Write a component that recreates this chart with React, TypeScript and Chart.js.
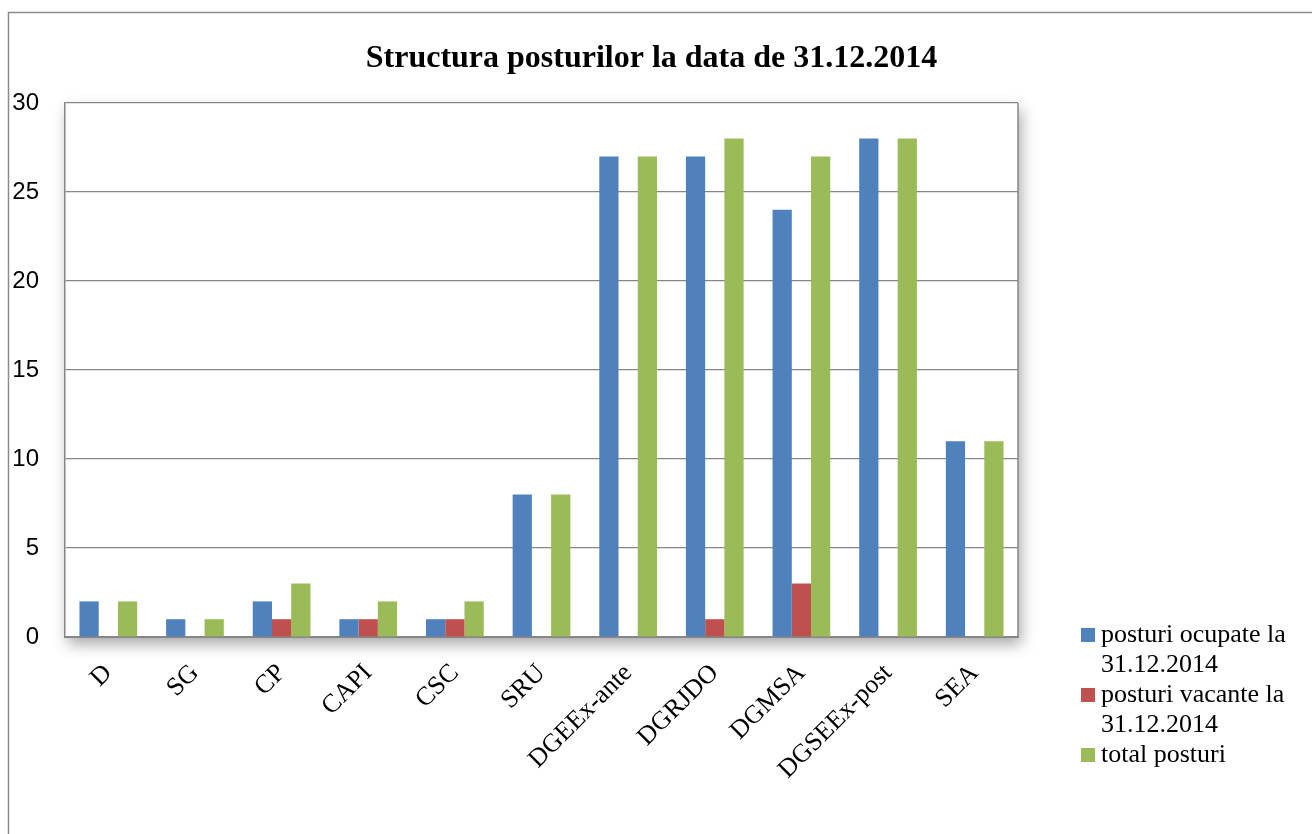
import React, { useEffect, useRef } from "react";
import { Chart, registerables } from "chart.js";

Chart.register(...registerables);

const categories = ["D", "SG", "CP", "CAPI", "CSC", "SRU", "DGEEx-ante", "DGRJDO", "DGMSA", "DGSEEx-post", "SEA"];
const ocupate = [2, 1, 2, 1, 1, 8, 27, 27, 24, 28, 11];
const vacante = [0, 0, 1, 1, 1, 0, 0, 1, 3, 0, 0];
const total = [2, 1, 3, 2, 2, 8, 27, 28, 27, 28, 11];
const seriesNames = [
  ["posturi ocupate la", "31.12.2014"],
  ["posturi vacante la", "31.12.2014"],
  ["total posturi"],
];
const seriesColors = ["#4F81BD", "#C0504D", "#9BBB59"];
const titleText = "Structura posturilor la data de 31.12.2014";

const GRID = "#868686";

const framePlugin = {
  id: "frame",
  beforeDraw(chart: any) {
    const { ctx, chartArea: a } = chart;
    ctx.save();
    ctx.fillStyle = "#ffffff";
    ctx.fillRect(0, 0, chart.width, chart.height);
    ctx.strokeStyle = "#8c8c8c";
    ctx.lineWidth = 1.5;
    ctx.strokeRect(8.5, 12.5, 2000, 2000);
    ctx.shadowColor = "rgba(0,0,0,0.35)";
    ctx.shadowBlur = 14;
    ctx.shadowOffsetX = 3;
    ctx.shadowOffsetY = 7;
    ctx.fillStyle = "#ffffff";
    ctx.fillRect(a.left, a.top, a.right - a.left, a.bottom - a.top);
    ctx.restore();
  },
  beforeDatasetsDraw(chart: any) {
    const { ctx, chartArea: a } = chart;
    ctx.save();
    ctx.strokeStyle = GRID;
    ctx.lineWidth = 1.5;
    ctx.beginPath();
    ctx.moveTo(a.right, a.top);
    ctx.lineTo(a.right, a.bottom);
    ctx.stroke();
    ctx.restore();
  },
  afterDraw(chart: any) {
    const { ctx } = chart;
    ctx.save();
    // title
    ctx.font = "bold 32px 'Liberation Serif'";
    ctx.textBaseline = "middle";
    ctx.textAlign = "center";
    ctx.fillStyle = "#000000";
    ctx.fillText(titleText, 651.5, 59);
    // legend
    ctx.font = "26px 'Liberation Serif'";
    ctx.textAlign = "left";
    let y = 635;
    chart.data.datasets.forEach((ds: any, i: number) => {
      const lines = seriesNames[i];
      ctx.fillStyle = ds.backgroundColor;
      ctx.fillRect(1081, y - 7, 14, 14);
      ctx.fillStyle = "#000000";
      lines.forEach((ln: string) => {
        ctx.fillText(ln, 1101, y);
        y += 30;
      });
    });
    ctx.restore();
  },
};

export default function App() {
  const ref = useRef<HTMLCanvasElement | null>(null);
  useEffect(() => {
    document.body.style.margin = "0";
    const canvas = ref.current!;
    const chart = new Chart(canvas, {
      type: "bar",
      data: {
        labels: categories,
        datasets: [
          { label: seriesNames[0].join(" "), data: ocupate, backgroundColor: seriesColors[0] },
          { label: seriesNames[1].join(" "), data: vacante, backgroundColor: seriesColors[1] },
          { label: seriesNames[2].join(" "), data: total, backgroundColor: seriesColors[2] },
        ],
      },
      options: {
        responsive: false,
        animation: false,
        devicePixelRatio: 1,
        datasets: { bar: { categoryPercentage: 0.666, barPercentage: 1, borderWidth: 0 } },
        layout: { padding: { left: 0, right: 294, top: 103, bottom: 47 } },
        plugins: {
          legend: { display: false },
          tooltip: { enabled: false },
          title: { display: false },
        },
        scales: {
          x: {
            afterFit(scale: any) {
              scale.height = 150;
            },
            grid: { display: false, drawTicks: false },
            border: { display: true, color: GRID, width: 2 },
            ticks: {
              color: "#000000",
              font: { family: "'Liberation Serif'", size: 26 },
              minRotation: 45,
              maxRotation: 45,
              padding: 21,
              autoSkip: false,
            },
          },
          y: {
            min: 0,
            max: 30,
            afterFit(scale: any) {
              scale.width = 65;
            },
            grid: { color: GRID, lineWidth: 1.2, drawTicks: false },
            border: { display: true, color: GRID, width: 1.5 },
            ticks: {
              stepSize: 5,
              color: "#000000",
              font: { family: "'Liberation Sans'", size: 24 },
              padding: 26,
            },
          },
        },
      },
      plugins: [framePlugin],
    } as any);
    return () => chart.destroy();
  }, []);
  return <canvas ref={ref} width={1312} height={834} style={{ display: "block" }} />;
}
